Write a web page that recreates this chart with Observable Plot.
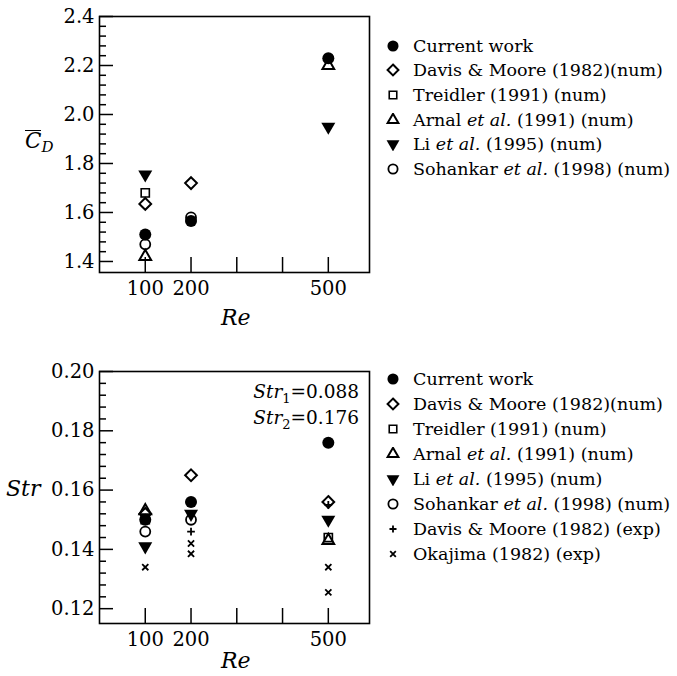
<!DOCTYPE html>
<html><head><meta charset="utf-8">
<script src="https://cdn.jsdelivr.net/npm/d3@7"></script>
<script src="https://cdn.jsdelivr.net/npm/@observablehq/plot@0.6"></script>
<style>
body{margin:0;background:#fff;}
#root{position:relative;width:677px;height:676px;font-family:"DejaVu Serif",serif;color:#000;overflow:hidden;}
#root svg.plot{position:absolute;left:0;}
.lbl{position:absolute;white-space:nowrap;line-height:1;}
.row{position:absolute;left:385px;height:24px;line-height:24px;white-space:nowrap;font-size:17.5px;}
.row svg{position:absolute;left:0;top:5px;}
.row span{position:absolute;left:28px;top:0;}
</style></head><body><div id="root"></div><script>
// ---- data ----
const re = [100, 200, 500];
const reTicks = [100, 200, 300, 400, 500];
const reLabels = [100, 200, 500];

// mean drag coefficient (top panel)
const cdCurrent  = [1.51, 1.565, 2.23];
const cdDavisNum = [1.635, 1.72, null];
const cdTreidler = [1.68, null, null];
const cdArnal    = [1.42, null, 2.2];
const cdLi       = [1.755, null, 1.95];
const cdSohankar = [1.47, 1.58, null];
const cdTicks = [1.4, 1.6, 1.8, 2.0, 2.2, 2.4];

// Strouhal number (bottom panel)
const strCurrent  = [0.150, 0.156, 0.176];
const strDavisNum = [0.152, 0.165, 0.156];
const strTreidler = [0.150, null, 0.144];
const strArnal    = [0.153, null, 0.143];
const strLi       = [0.141, 0.152, 0.150];
const strSohankar = [0.146, 0.150, null];
const strDavisExp = [null, 0.146, 0.155];
const reOkajima   = [100, 200, 200, 500, 500];
const strOkajima  = [0.134, 0.142, 0.1385, 0.134, 0.1255];
const strTicks = [0.12, 0.14, 0.16, 0.18, 0.20];

const names = {
  current: "Current work",
  davisNum: "Davis &amp; Moore (1982)(num)",
  treidler: "Treidler (1991) (num)",
  arnal: "Arnal <i>et al.</i> (1991) (num)",
  li: "Li <i>et al.</i> (1995) (num)",
  sohankar: "Sohankar <i>et al.</i> (1998) (num)",
  davisExp: "Davis &amp; Moore (1982) (exp)",
  okajima: "Okajima (1982) (exp)"
};

// ---- styles ----
const styles = {
  current:  {symbol: "circle",   d3s: d3.symbolCircle,   r: 6,   fill: "black", stroke: "none", strokeWidth: 0, rotate: 0},
  davisNum: {symbol: "diamond2", d3s: d3.symbolDiamond2, r: 5.3, fill: "none", stroke: "black", strokeWidth: 2, rotate: 0},
  treidler: {symbol: "square2",  d3s: d3.symbolSquare2,  r: 5.2, fill: "none", stroke: "black", strokeWidth: 1.6, rotate: 0},
  arnal:    {symbol: "triangle2",d3s: d3.symbolTriangle2,r: 5.6, fill: "none", stroke: "black", strokeWidth: 2, rotate: 0},
  li:       {symbol: "triangle", d3s: d3.symbolTriangle, r: 5.2, fill: "black", stroke: "none", strokeWidth: 0, rotate: 180},
  sohankar: {symbol: "circle",   d3s: d3.symbolCircle,   r: 5,   fill: "none", stroke: "black", strokeWidth: 1.8, rotate: 0},
  davisExp: {symbol: "plus",     d3s: d3.symbolPlus,     r: 2.6, fill: "none", stroke: "black", strokeWidth: 1.8, rotate: 0},
  okajima:  {symbol: "times",    d3s: d3.symbolTimes,    r: 2.9, fill: "none", stroke: "black", strokeWidth: 1.8, rotate: 0}
};

function rows(xs, ys) {
  return xs.map((x, i) => ({re: x, v: ys[i]})).filter(d => d.v != null);
}

function dots(key, data) {
  const s = styles[key];
  return Plot.dot(data, {x: "re", y: "v", symbol: s.symbol, r: s.r, fill: s.fill, stroke: s.stroke, strokeWidth: s.strokeWidth, rotate: s.rotate});
}

const W = 380, ML = 99, MR = 11;
function panel({height, marginTop, marginBottom, yDomain, yTicks, yMinor, yFormat, layers}) {
  const frameW = W - ML - MR;
  const frameH = height - marginTop - marginBottom;
  const svg = Plot.plot({
    width: W, height, marginLeft: ML, marginRight: MR, marginTop, marginBottom,
    style: {fontFamily: "'DejaVu Serif', serif", fontSize: "19.5px", color: "black", background: "white"},
    x: {domain: [0, 590]},
    y: {domain: yDomain},
    marks: [
      Plot.tickY(yMinor, {y: d => d, insetRight: frameW - 7, stroke: "black", strokeWidth: 1.5}),
      Plot.tickY(yTicks, {y: d => d, insetRight: frameW - 14, stroke: "black", strokeWidth: 1.5}),
      Plot.tickX(reTicks, {x: d => d, insetTop: frameH - 15, stroke: "black", strokeWidth: 1.5}),
      Plot.axisY(yTicks, {tickSize: 0, tickPadding: 5, tickFormat: yFormat, label: null, fill: "black"}),
      Plot.axisX(reLabels, {tickSize: 0, tickPadding: 9, label: null, fill: "black"}),
      ...layers,
      Plot.frame({stroke: "black", strokeWidth: 1.6})
    ]
  });
  svg.classList.add("plot");
  return svg;
}

const root = document.getElementById("root");

const topPanel = panel({
  height: 340, marginTop: 16, marginBottom: 68,
  yDomain: [1.355, 2.4], yTicks: cdTicks,
  yMinor: d3.range(36, 61).filter(i => i % 5 !== 0).map(i => i * 0.04),
  yFormat: d => d.toFixed(1),
  layers: [
    dots("davisNum", rows(re, cdDavisNum)),
    dots("treidler", rows(re, cdTreidler)),
    dots("arnal", rows(re, cdArnal)),
    dots("li", rows(re, cdLi)),
    dots("sohankar", rows(re, cdSohankar)),
    dots("current", rows(re, cdCurrent))
  ]
});
topPanel.style.top = "0px";
root.appendChild(topPanel);

const bottomPanel = panel({
  height: 336, marginTop: 31, marginBottom: 53,
  yDomain: [0.115, 0.20], yTicks: strTicks,
  yMinor: d3.range(31, 50).filter(i => i % 5 !== 0).map(i => i * 0.004),
  yFormat: d => d.toFixed(2),
  layers: [
    dots("davisNum", rows(re, strDavisNum)),
    dots("treidler", rows(re, strTreidler)),
    dots("arnal", rows(re, strArnal)),
    dots("li", rows(re, strLi)),
    dots("sohankar", rows(re, strSohankar)),
    dots("davisExp", rows(re, strDavisExp)),
    dots("okajima", rows(reOkajima, strOkajima)),
    dots("current", rows(re, strCurrent))
  ]
});
bottomPanel.style.top = "340px";
root.appendChild(bottomPanel);

// ---- axis titles & annotation ----
function label(html, css) {
  const d = document.createElement("div");
  d.className = "lbl";
  d.innerHTML = html;
  Object.assign(d.style, css);
  root.appendChild(d);
  return d;
}
label('<span style="display:inline-block;border-top:1.5px solid #000;line-height:0.95;"><i>C</i></span><sub style="font-size:15px;position:relative;top:-1px;"><i>D</i></sub>', {left: "25px", top: "130px", fontSize: "21.5px"});
label('<i>Re</i>', {left: "221px", top: "307px", fontSize: "22px"});
label('<i>Str</i>', {left: "6px", top: "478px", fontSize: "22px"});
label('<i>Re</i>', {left: "221px", top: "650px", fontSize: "22px"});
label('<i>Str</i><sub style="font-size:13px">1</sub>=0.088', {right: "318px", top: "383px", fontSize: "18.5px"});
label('<i>Str</i><sub style="font-size:13px">2</sub>=0.176', {right: "318px", top: "409px", fontSize: "18.5px"});

// ---- legends ----
function legend(keys, y0, step) {
  keys.forEach((k, i) => {
    const s = styles[k];
    const row = document.createElement("div");
    row.className = "row";
    row.style.top = (y0 + i * step - 12) + "px";
    const svg = d3.create("svg").attr("width", 16).attr("height", 14).attr("viewBox", "-8 -7 16 14");
    svg.append("path")
      .attr("d", d3.symbol(s.d3s, Math.PI * s.r * s.r * 0.85)())
      .attr("transform", `rotate(${s.rotate})`)
      .attr("fill", s.fill).attr("stroke", s.stroke).attr("stroke-width", s.strokeWidth);
    row.appendChild(svg.node());
    const t = document.createElement("span");
    t.innerHTML = names[k];
    row.appendChild(t);
    root.appendChild(row);
  });
}
legend(["current", "davisNum", "treidler", "arnal", "li", "sohankar"], 45.7, 24.6);
legend(["current", "davisNum", "treidler", "arnal", "li", "sohankar", "davisExp", "okajima"], 379, 25);
</script></body></html>
